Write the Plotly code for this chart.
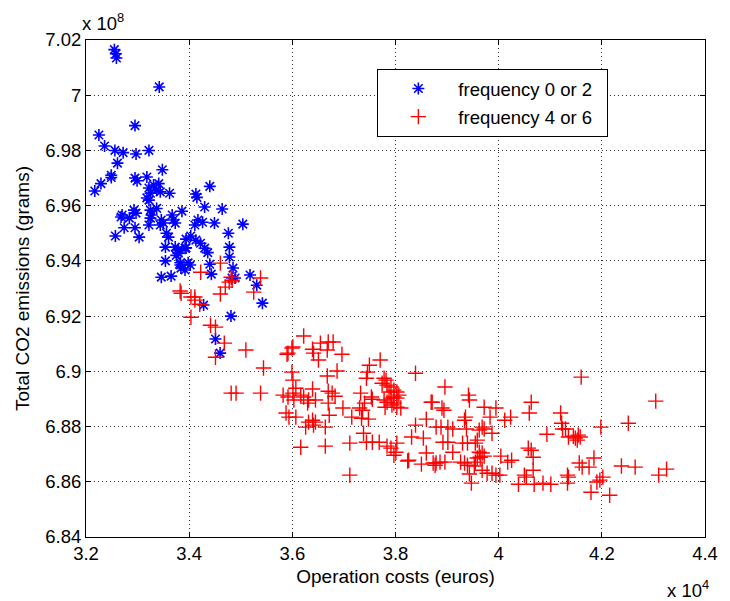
import plotly.graph_objects as go

# Operation costs (x 10^4 euros) and total CO2 emissions (x 10^8 grams)
blue_x = [3.255, 3.258, 3.259, 3.342, 3.295, 3.225, 3.236, 3.256, 3.272, 3.297,
          3.322, 3.261, 3.348, 3.249, 3.249, 3.295, 3.299, 3.318, 3.229, 3.217,
          3.331, 3.341, 3.322, 3.337, 3.344, 3.325, 3.318, 3.322, 3.362, 3.413,
          3.415, 3.440, 3.430, 3.386, 3.268, 3.270, 3.284, 3.293, 3.297, 3.325,
          3.327, 3.325, 3.337, 3.346, 3.344, 3.350, 3.367, 3.369, 3.373, 3.274,
          3.257, 3.295, 3.322, 3.411, 3.417, 3.426, 3.449, 3.356, 3.360, 3.303,
          3.403, 3.464, 3.504, 3.476, 3.394, 3.413, 3.422, 3.430, 3.392, 3.478,
          3.478, 3.379, 3.383, 3.384, 3.392, 3.402, 3.440, 3.443, 3.485, 3.489,
          3.483, 3.518, 3.531, 3.542, 3.481, 3.428, 3.346, 3.365, 3.354, 3.354,
          3.373, 3.379, 3.375, 3.394, 3.436, 3.451, 3.460, 3.383, 3.398]
blue_y = [7.0165, 7.0150, 7.0135, 7.0030, 6.9890, 6.9856, 6.9816, 6.9800, 6.9792, 6.9787,
          6.9800, 6.9754, 6.9730, 6.9710, 6.9702, 6.9700, 6.9690, 6.9704, 6.9680, 6.9653,
          6.9675, 6.9680, 6.9664, 6.9657, 6.9650, 6.9645, 6.9628, 6.9620, 6.9645, 6.9642,
          6.9630, 6.9670, 6.9595, 6.9580, 6.9559, 6.9566, 6.9555, 6.9584, 6.9573, 6.9584,
          6.9566, 6.9555, 6.9590, 6.9548, 6.9530, 6.9537, 6.9566, 6.9548, 6.9537, 6.9520,
          6.9490, 6.9520, 6.9530, 6.9530, 6.9548, 6.9540, 6.9537, 6.9500, 6.9486, 6.9486,
          6.9490, 6.9588, 6.9533, 6.9500, 6.9479, 6.9475, 6.9464, 6.9446, 6.9446, 6.9450,
          6.9414, 6.9428, 6.9385, 6.9374, 6.9367, 6.9385, 6.9388, 6.9352, 6.9374, 6.9338,
          6.9338, 6.9349, 6.9312, 6.9247, 6.9200, 6.9240, 6.9341, 6.9345, 6.9400, 6.9450,
          6.9450, 6.9440, 6.9420, 6.9447, 6.9430, 6.9117, 6.9066, 6.9393, 6.9393]

red_x = [3.4605, 3.4224, 3.4814, 3.4776, 3.4700, 3.4605, 3.4833, 3.5384, 3.5251, 3.3825,
         3.3844, 3.4034, 3.4110, 3.4110, 3.4205, 3.4034, 3.4414, 3.4510, 3.4681, 3.4510,
         3.5099, 3.5441, 3.5916, 3.5992, 3.4814, 3.4909, 3.5384,
         3.6220, 3.6011, 3.5897, 3.6392, 3.6411, 3.6544, 3.6696, 3.6791, 3.6677, 3.6506,
         3.6962, 3.7494, 3.7703, 3.6867, 3.6677, 3.7456, 3.7437, 3.8388, 3.7779, 3.7817,
         3.7836, 3.7912, 3.7874, 3.7969, 3.8026, 3.7969, 3.7912, 3.8026, 3.8065, 3.7741,
         3.6068, 3.6011, 3.6030, 3.5916, 3.6163, 3.6220, 3.6315, 3.6449, 3.6296, 3.6392,
         3.6696, 3.6772, 3.6829, 3.6696, 3.6981, 3.7323, 3.7532, 3.7551, 3.7399, 3.7304,
         3.7361, 3.7779, 3.7836, 3.7931, 3.8026, 3.8103, 3.7969, 3.7798, 3.5878, 3.5935,
         3.6068, 3.5992, 3.6011, 3.5821, 3.6715, 3.7152, 3.7342, 3.7475, 3.6315, 3.6392,
         3.6449, 3.6258, 3.6639, 3.6411, 3.7380, 3.6163, 3.6639, 3.7114, 3.7437, 3.7551,
         3.7684, 3.7836, 3.7912, 3.8007, 3.8026, 3.7969, 3.8255, 3.8312, 3.8540, 3.8597,
         3.8388, 3.8597, 3.8502, 3.8692, 3.7114,
         3.8958, 3.8711, 3.8901, 3.8939, 3.9414, 3.9433, 3.9719, 3.9947, 3.9833, 4.0118,
         4.0232, 4.0631, 4.0593, 4.1201, 4.1220, 4.1239, 4.1296, 4.1353, 4.0935, 3.8787,
         3.8882, 3.9015, 3.9110, 3.9357, 3.9338, 3.9376, 3.9680, 3.9719, 3.9623, 3.9871,
         3.9585, 3.9547, 3.8920, 3.9015, 3.9300, 3.9395, 3.9110, 3.9623, 3.9680, 3.9719,
         3.9642, 3.9585, 3.9547, 3.8730, 3.8787, 3.8863, 3.8958, 3.8768, 3.9262, 3.9338,
         3.9395, 3.9528, 4.0042, 4.0175, 4.0251, 3.9680, 3.9776, 3.9871, 3.9947, 4.0023,
         3.9433, 3.9471, 4.0574, 4.0631, 4.0669, 4.0669, 4.0536, 4.0498, 4.0384, 4.0688,
         4.0859, 4.1011, 4.1334, 4.1334, 3.8236,
         4.1600, 4.3045, 4.2513, 4.1981, 4.1448, 4.1543, 4.1581, 4.1524, 4.1486, 4.1562,
         4.1619, 4.1752, 4.1847, 4.2380, 4.2646, 4.3102, 4.3255, 4.1353, 4.2019, 4.1962,
         4.1904, 4.1790, 4.2152]
red_y = [6.9392, 6.9359, 6.9341, 6.9323, 6.9305, 6.9280, 6.9330, 6.9338, 6.9287, 6.9291,
         6.9283, 6.9269, 6.9269, 6.9258, 6.9243, 6.9196, 6.9167, 6.9160, 6.9102, 6.9051,
         6.9077, 6.9012, 6.9066, 6.9084, 6.8921, 6.8921, 6.8921,
         6.9128, 6.9088, 6.9062, 6.9080, 6.9066, 6.9102, 6.9106, 6.9106, 6.9077, 6.9041,
         6.9062, 6.9022, 6.9041, 6.9001, 6.8983, 6.8997, 6.8975, 6.8993, 6.8975, 6.8968,
         6.8950, 6.8943, 6.8925, 6.8932, 6.8925, 6.8907, 6.8903, 6.8903, 6.8914, 6.8957,
         6.8939, 6.8921, 6.8896, 6.8907, 6.8914, 6.8907, 6.8896, 6.8896, 6.8885, 6.8936,
         6.8928, 6.8921, 6.8910, 6.8885, 6.8867, 6.8921, 6.8907, 6.8899, 6.8885, 6.8867,
         6.8859, 6.8896, 6.8888, 6.8878, 6.8870, 6.8867, 6.8885, 6.8870, 6.8849, 6.8834,
         6.8834, 6.8997, 6.8968, 6.8914, 6.8841, 6.8834, 6.8830, 6.8827, 6.8816, 6.8823,
         6.8816, 6.8798, 6.8798, 6.8805, 6.8776, 6.8725, 6.8729, 6.8740, 6.8743, 6.8743,
         6.8743, 6.8729, 6.8722, 6.8707, 6.8740, 6.8696, 6.8678, 6.8762, 6.8758, 6.8827,
         6.8805, 6.8704, 6.8664, 6.8888, 6.8624,
         6.8943, 6.8888, 6.8867, 6.8859, 6.8914, 6.8896, 6.8870, 6.8867, 6.8834, 6.8823,
         6.8834, 6.8888, 6.8849, 6.8849, 6.8812, 6.8791, 6.8791, 6.8762, 6.8772, 6.8798,
         6.8798, 6.8798, 6.8791, 6.8834, 6.8823, 6.8791, 6.8798, 6.8791, 6.8787, 6.8776,
         6.8751, 6.8740, 6.8743, 6.8743, 6.8740, 6.8740, 6.8707, 6.8707, 6.8704, 6.8693,
         6.8689, 6.8686, 6.8671, 6.8668, 6.8668, 6.8671, 6.8671, 6.8660, 6.8671, 6.8668,
         6.8660, 6.8657, 6.8693, 6.8671, 6.8678, 6.8642, 6.8631, 6.8631, 6.8624, 6.8624,
         6.8628, 6.8595, 6.8722, 6.8714, 6.8689, 6.8642, 6.8617, 6.8624, 6.8591, 6.8591,
         6.8595, 6.8591, 6.8624, 6.8595, 6.8675,
         6.8979, 6.8892, 6.8812, 6.8798, 6.8765, 6.8769, 6.8762, 6.8751, 6.8758, 6.8668,
         6.8653, 6.8653, 6.8686, 6.8657, 6.8653, 6.8624, 6.8646, 6.8617, 6.8617, 6.8606,
         6.8599, 6.8562, 6.8551]

x_ticks = [3.2, 3.4, 3.6, 3.8, 4.0, 4.2, 4.4]
x_tick_text = ["3.2", "3.4", "3.6", "3.8", "4", "4.2", "4.4"]
y_ticks = [6.84, 6.86, 6.88, 6.90, 6.92, 6.94, 6.96, 6.98, 7.00, 7.02]
y_tick_text = ["6.84", "6.86", "6.88", "6.9", "6.92", "6.94", "6.96", "6.98", "7", "7.02"]

series_names = ["frequency 0 or 2", "frequency 4 or 6"]

FONT = "Liberation Sans, Arial, sans-serif"
TICK_FS = 18.5
TITLE_FS = 19
LEG_FS = 18.5
PAD = "\u00a0\u00a0"

fig = go.Figure()
fig.add_trace(go.Scatter(
    x=blue_x, y=blue_y, mode="markers", name=series_names[0] + PAD, legendgroup="a",
    marker=dict(symbol="asterisk-open", size=10, color="#0000ff",
                line=dict(color="#0000ff", width=1.6)),
))
fig.add_trace(go.Scatter(
    x=red_x, y=red_y, mode="markers", name=series_names[1] + PAD, legendgroup="b",
    marker=dict(symbol="cross-thin-open", size=11, color="#ff0000",
                line=dict(color="#ff0000", width=1.4)),
))

axis_common = dict(
    showline=True, linecolor="black", linewidth=1, mirror="ticks",
    ticks="inside", ticklen=5, tickcolor="black",
    showgrid=True, gridcolor="#333333", griddash="1px,3px", gridwidth=1,
    zeroline=False,
    tickfont=dict(family=FONT, size=TICK_FS, color="black"),
)

fig.update_xaxes(range=[3.2, 4.4], tickvals=x_ticks, ticktext=x_tick_text,
                 title=dict(text="Operation costs (euros)", standoff=6,
                            font=dict(family=FONT, size=TITLE_FS, color="black")),
                 **axis_common)
fig.update_yaxes(range=[6.84, 7.02], tickvals=y_ticks, ticktext=y_tick_text,
                 title=dict(text="Total CO2 emissions (grams)", standoff=10,
                            font=dict(family=FONT, size=TITLE_FS, color="black")),
                 **axis_common)

fig.add_annotation(text="x 10<sup>8</sup>", xref="paper", yref="paper",
                   x=0, y=1.0, xanchor="left", yanchor="bottom", yshift=4, xshift=-6,
                   showarrow=False, font=dict(family=FONT, size=TICK_FS, color="black"))
fig.add_annotation(text="x 10<sup>4</sup>", xref="paper", yref="paper",
                   x=1.0, y=0, xanchor="right", yanchor="top", yshift=-38, xshift=6,
                   showarrow=False, font=dict(family=FONT, size=TICK_FS, color="black"))

fig.update_layout(
    width=730, height=601,
    margin=dict(l=86, r=14, t=40, b=64),
    paper_bgcolor="white", plot_bgcolor="white",
    showlegend=True,
    legend=dict(x=0.4707, y=0.9416, xanchor="left", yanchor="top",
                bordercolor="black", borderwidth=1, bgcolor="white",
                font=dict(family=FONT, size=LEG_FS, color="black"),
                itemwidth=70, tracegroupgap=1),
)

fig.write_html("out.html", config={"displayModeBar": False},
               post_script="document.body.style.margin='0';document.body.style.overflow='hidden';")
